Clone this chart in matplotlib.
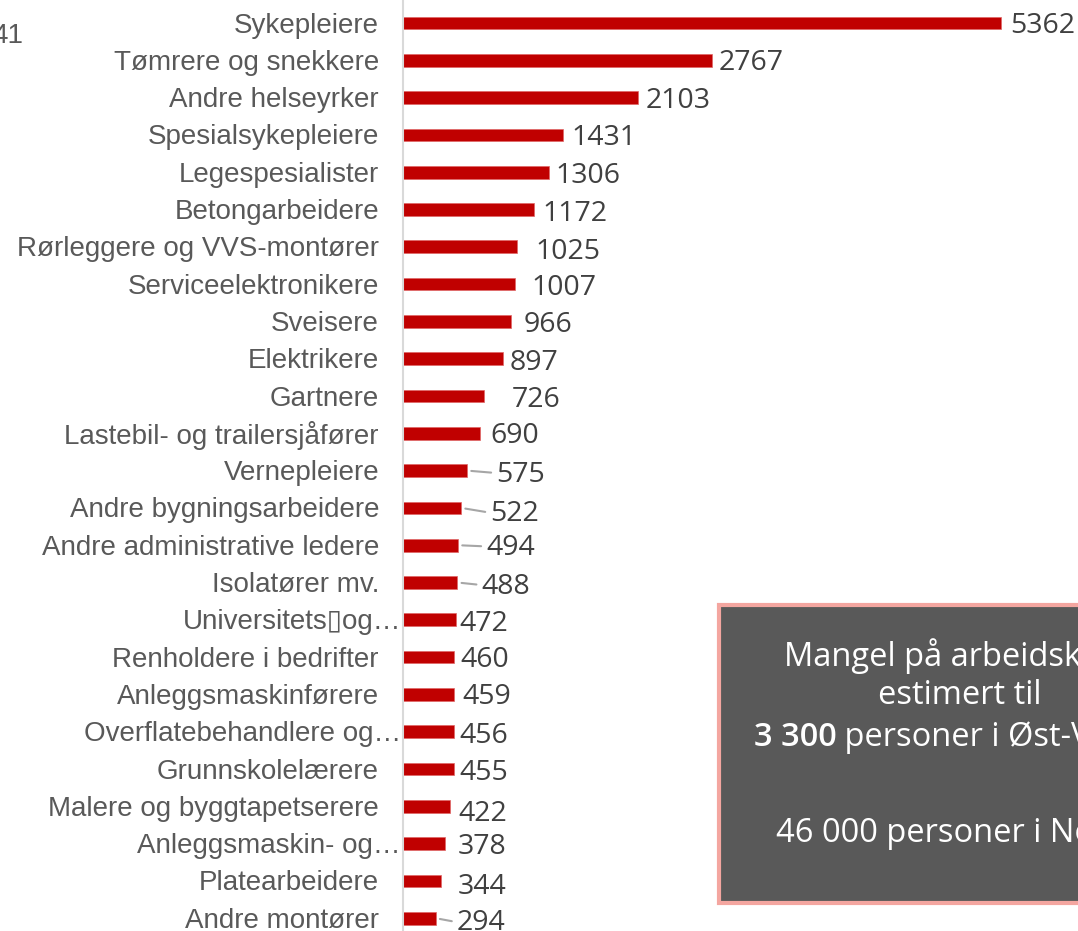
import matplotlib.pyplot as plt
import matplotlib.transforms as mtransforms
from matplotlib.patches import Rectangle

# data
occupations = [
    "Sykepleiere", "Tømrere og snekkere", "Andre helseyrker", "Spesialsykepleiere",
    "Legespesialister", "Betongarbeidere", "Rørleggere og VVS-montører",
    "Serviceelektronikere", "Sveisere", "Elektrikere", "Gartnere",
    "Lastebil- og trailersjåfører", "Vernepleiere", "Andre bygningsarbeidere",
    "Andre administrative ledere", "Isolatører mv.", "Universitets\u25afog…",
    "Renholdere i bedrifter", "Anleggsmaskinførere", "Overflatebehandlere og…",
    "Grunnskolelærere", "Malere og byggtapetserere", "Anleggsmaskin- og…",
    "Platearbeidere", "Andre montører",
]
shortage = [5362, 2767, 2103, 1431, 1306, 1172, 1025, 1007, 966, 897, 726, 690,
            575, 522, 494, 488, 472, 460, 459, 456, 455, 422, 378, 344, 294]
truncated = ["Universitets\u25afog…", "Overflatebehandlere og…", "Anleggsmaskin- og…"]

# label placement (pixels right of bar end / down), leader lines where Excel drew them
label_dx = [9, 7, 8, 9, 7, 9, 18, 16, 13, 7, 28, 10, 29, 29, 28, 24, 4, 6, 8, 6, 6, 8, 13, 16, 21]
label_dy = [0, 0, 0, 0, 1, 1, 2, 1, 1, 1, 1, 0, 1, 3, 0, 1, 1, 0, 0, 1, 1, 5, 0, 3, 2]
leader = [575, 522, 494, 488, 294]

W, H = 1078, 931
fig = plt.figure(figsize=(W / 100, H / 100), dpi=100)

ax_left = 403
px_per_unit = (1001 - ax_left) / 5362
ax = fig.add_axes([ax_left / W, 0, (W - ax_left) / W, 1])
ax.set_xlim(0, (W - ax_left) / px_per_unit)
first_y, step = 23, 37.3
ax.set_ylim((H - first_y) / step, -first_y / step)

ypos = list(range(len(occupations)))
ax.barh(ypos, shortage, height=0.34, color="#c00000", edgecolor="#e06666", linewidth=0.5)

for s in ["top", "right", "bottom"]:
    ax.spines[s].set_visible(False)
ax.spines["left"].set_color("#d9d9d9")
ax.spines["left"].set_linewidth(1.5)
ax.set_xticks([])
ax.set_yticks([])

trans = mtransforms.blended_transform_factory(ax.transAxes, ax.transData)
for y, name in zip(ypos, occupations):
    pad = -2 if name in truncated else -24
    ax.annotate(name, xy=(0, y), xycoords=trans, xytext=(pad * 0.72, -2.5 * 0.72),
                textcoords="offset points", ha="right", va="center",
                fontsize=20, family=["Liberation Sans", "DejaVu Sans"],
                color="#595959", annotation_clip=False)

for y, v, dx, dy in zip(ypos, shortage, label_dx, label_dy):
    ax.annotate(str(v), xy=(v, y), xytext=(dx * 0.72, -(dy + 3) * 0.72),
                textcoords="offset points", ha="left", va="center",
                fontsize=20.5, family="Open Sans", color="#404040")
    if v in leader:
        ax.annotate("", xy=(v, y), xytext=((dx - 5) * 0.72, -(dy + 1) * 0.72),
                    textcoords="offset points",
                    arrowprops=dict(arrowstyle="-", color="#a6a6a6", lw=1.5,
                                    shrinkA=0, shrinkB=3))

fig.text(23 / W, 1 - 36 / H, "41", ha="right", va="center", fontsize=20,
         family="Liberation Sans", color="#595959")

# text box
box_l, box_t, box_b, box_w = 719, 605, 903, 482
fig.patches.append(Rectangle((box_l / W, 1 - box_b / H), box_w / W, (box_b - box_t) / H,
                             transform=fig.transFigure, facecolor="#595959",
                             edgecolor="#f4a6a0", linewidth=3))
cx = (box_l + box_w / 2) / W
fs = 23.5
fig.text(cx, 1 - 656 / H, "Mangel på arbeidskraft", ha="center", va="center",
         fontsize=fs, family="Open Sans", color="white")
fig.text(cx, 1 - 696 / H, "estimert til", ha="center", va="center",
         fontsize=fs, family="Open Sans", color="white")
fig.text(cx, 1 - 834 / H, "46 000 personer i Norge", ha="center", va="center",
         fontsize=fs, family="Open Sans", color="white")

renderer = fig.canvas.get_renderer()
t_bold = fig.text(0, 1 - 738 / H, "3 300", ha="left", va="center", fontsize=fs,
                  family="Open Sans", weight="semibold", color="white")
t_rest = fig.text(0, 1 - 738 / H, " personer i Øst-Viken", ha="left", va="center",
                  fontsize=fs, family="Open Sans", color="white")
wb = t_bold.get_window_extent(renderer).width / W
wr = t_rest.get_window_extent(renderer).width / W
start = cx - (wb + wr) / 2 - 6 / W
t_bold.set_x(start)
t_rest.set_x(start + wb)

fig.savefig("out.png", dpi=100)
